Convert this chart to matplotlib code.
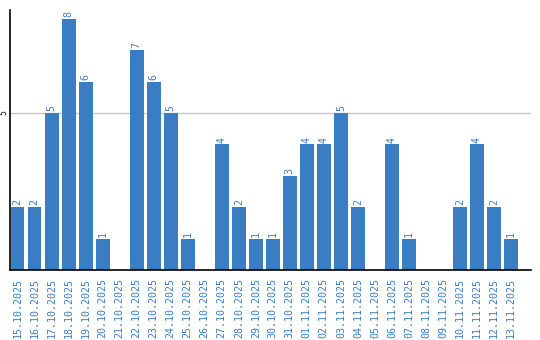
import matplotlib
matplotlib.use("Agg")
import matplotlib.pyplot as plt

dates = ["15.10.2025", "16.10.2025", "17.10.2025", "18.10.2025", "19.10.2025",
         "20.10.2025", "21.10.2025", "22.10.2025", "23.10.2025", "24.10.2025",
         "25.10.2025", "26.10.2025", "27.10.2025", "28.10.2025", "29.10.2025",
         "30.10.2025", "31.10.2025", "01.11.2025", "02.11.2025", "03.11.2025",
         "04.11.2025", "05.11.2025", "06.11.2025", "07.11.2025", "08.11.2025",
         "09.11.2025", "10.11.2025", "11.11.2025", "12.11.2025", "13.11.2025"]
counts = [2, 2, 5, 8, 6, 1, 0, 7, 6, 5,
          1, 0, 4, 2, 1, 1, 3, 4, 4, 5,
          2, 0, 4, 1, 0, 0, 2, 4, 2, 1]

blue = "#3a7dc2"

fig = plt.figure(figsize=(5.4, 3.4), dpi=100)
ax = fig.add_axes([10 / 540, 70 / 340, 521 / 540, 260 / 340])

x = list(range(len(dates)))
ax.bar(x, counts, width=0.82, color=blue, zorder=2)

# value labels above bars (zero days have no label)
for xi, c in zip(x, counts):
    if c > 0:
        ax.text(xi, c + 0.06, str(c), rotation=90, ha="center", va="bottom",
                color=blue, fontsize=7.2, family="DejaVu Sans Mono")

ax.set_xlim(-0.44, 30.17)
ax.set_ylim(0, 8.28)
ax.set_xticks(x)
ax.set_xticklabels(dates, rotation=90, color=blue, fontsize=7.2,
                   family="DejaVu Sans Mono")
ax.set_yticks([5])
ax.set_yticklabels(["5"], rotation=90, va="center", fontsize=5.5)
ax.tick_params(axis="both", length=0)
ax.tick_params(axis="y", pad=1.5)
ax.tick_params(axis="x", pad=6)
ax.yaxis.grid(True, color="#c8c8c8", linewidth=1, zorder=0)

for side in ["top", "right"]:
    ax.spines[side].set_visible(False)
ax.spines["left"].set_linewidth(1.2)
ax.spines["bottom"].set_linewidth(1.2)

fig.savefig("out.png", dpi=100)
